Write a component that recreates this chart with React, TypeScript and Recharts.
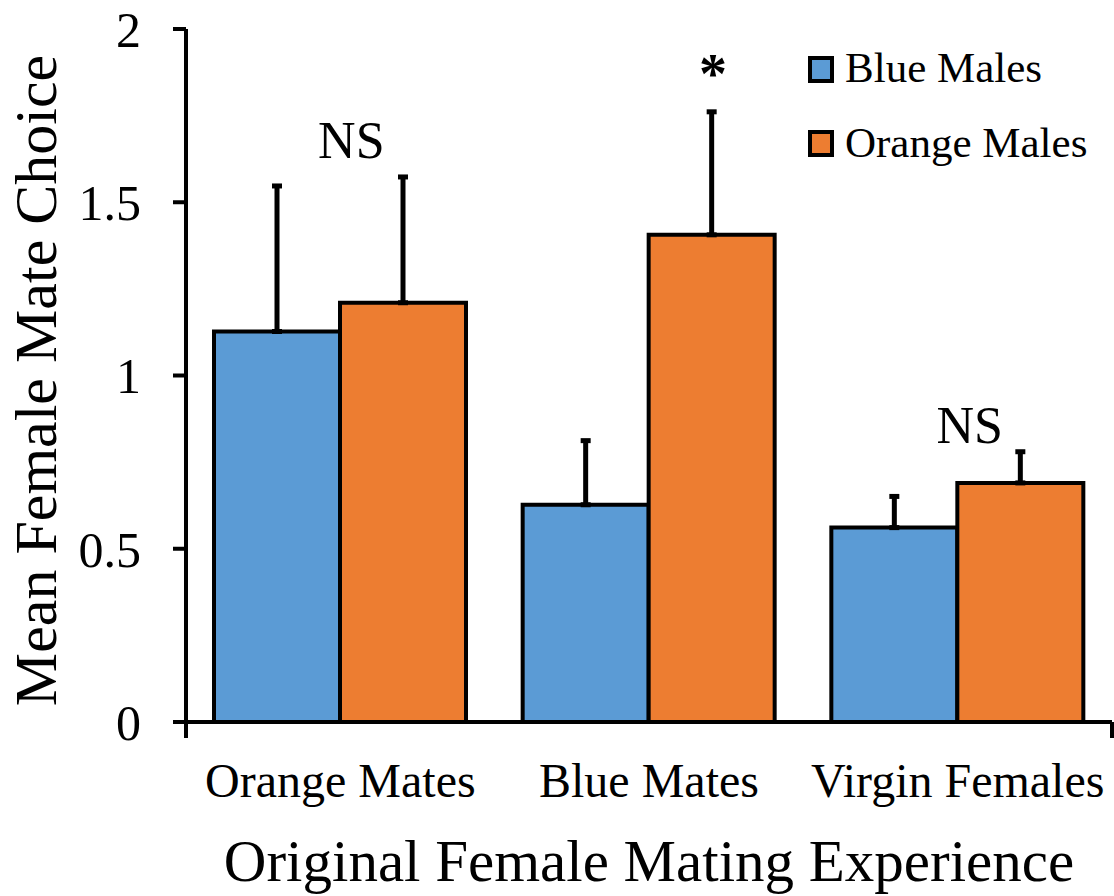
import React from "react"
import * as R from "recharts"
import {
  Bar,
  BarChart,
  ErrorBar,
  Legend,
  ReferenceDot,
  XAxis,
  YAxis,
} from "recharts"

const categories = ["Orange Mates", "Blue Mates", "Virgin Females"]
const blueMales = [1.127, 0.627, 0.561]
const blueErr = [0.42, 0.185, 0.09]
const orangeMales = [1.21, 1.406, 0.69]
const orangeErr = [0.363, 0.355, 0.09]
const yTicks = [0, 0.5, 1, 1.5, 2]

// significance marks: category, value at text baseline, label, offset from category centre
const marks = [
  { category: "Orange Mates", y: 1.627, text: "NS", dx: 11, bold: false },
  { category: "Blue Mates", y: 1.815, text: "*", dx: 64, bold: true },
  { category: "Virgin Females", y: 0.805, text: "NS", dx: 12, bold: false },
]

const data = categories.map((name, i) => ({
  name,
  blue: blueMales[i],
  blueErr: blueErr[i],
  orange: orangeMales[i],
  orangeErr: orangeErr[i],
}))

const FONT = "'Liberation Serif', 'Times New Roman', serif"
const BLUE = "#5B9BD5"
const ORANGE = "#ED7D31"

function EdgeTicks() {
  const usePlotArea = (R as any).usePlotArea
  const area = usePlotArea ? usePlotArea() : null
  if (!area) return null
  const bottom = area.y + area.height
  return (
    <g>
      <line x1={area.x} y1={bottom} x2={area.x} y2={bottom + 16} stroke="#000" strokeWidth={4} />
      <line
        x1={area.x + area.width}
        y1={bottom}
        x2={area.x + area.width}
        y2={bottom + 16}
        stroke="#000"
        strokeWidth={4}
      />
    </g>
  )
}

function YTitle(props: any) {
  const { x, y, height } = props.viewBox
  const cx = x + 56
  const cy = y + height / 2 + 5
  return (
    <text
      x={cx}
      y={cy}
      transform={`rotate(-90, ${cx}, ${cy})`}
      textAnchor="middle"
      fontFamily={FONT}
      fontSize={60}
      fill="#000"
    >
      Mean Female Mate Choice
    </text>
  )
}

function LegendBox({ payload }: any) {
  const items = payload ?? []
  return (
    <svg width={300} height={140} style={{ overflow: "visible" }}>
      {items.map((item: any, i: number) => (
        <g key={item.value}>
          <rect
            x={4}
            y={18 + i * 74}
            width={22}
            height={23}
            fill={item.color}
            stroke="#000"
            strokeWidth={4}
          />
          <text x={39} y={42 + i * 75} fontFamily={FONT} fontSize={43} fill="#000">
            {item.value}
          </text>
        </g>
      ))}
    </svg>
  )
}

export default function App() {
  return (
    <div style={{ position: "absolute", left: 0, top: 0, background: "#fff" }}>
      <BarChart
        width={1114}
        height={896}
        data={data}
        margin={{ top: 29, right: 2, left: 0, bottom: 0 }}
        barCategoryGap={28}
        barGap={0}
      >
        <XAxis
          dataKey="name"
          height={174}
          axisLine={{ stroke: "#000", strokeWidth: 4 }}
          tickLine={false}
          tickSize={0}
          tickMargin={41}
          tick={{ fill: "#000", fontSize: 48, fontFamily: FONT }}
          interval={0}
          label={{
            value: "Original Female Mating Experience",
            position: "insideBottom",
            offset: 15,
            fill: "#000",
            fontSize: 59,
            fontFamily: FONT,
          }}
        />
        <YAxis
          width={186}
          domain={[0, 2]}
          ticks={yTicks}
          axisLine={{ stroke: "#000", strokeWidth: 4 }}
          tickLine={{ stroke: "#000", strokeWidth: 4 }}
          tickSize={13}
          tickMargin={32}
          tick={{ fill: "#000", fontSize: 50, fontFamily: FONT }}
          label={(props: any) => <YTitle {...props} />}
        />
        <Legend
          layout="horizontal"
          verticalAlign="middle"
          align="center"
          wrapperStyle={{ top: 40, left: 806, width: 300, height: 140 }}
          content={(props: any) => <LegendBox {...props} />}
        />
        <Bar
          dataKey="blue"
          name="Blue Males"
          fill={BLUE}
          stroke="#000"
          strokeWidth={4}
          isAnimationActive={false}
        >
          <ErrorBar
            dataKey={(d: any) => [0, d.blueErr]}
            direction="y"
            width={5}
            stroke="#000"
            strokeWidth={5}
          />
        </Bar>
        <Bar
          dataKey="orange"
          name="Orange Males"
          fill={ORANGE}
          stroke="#000"
          strokeWidth={4}
          isAnimationActive={false}
        >
          <ErrorBar
            dataKey={(d: any) => [0, d.orangeErr]}
            direction="y"
            width={5}
            stroke="#000"
            strokeWidth={5}
          />
        </Bar>
        {marks.map((m) => (
          <ReferenceDot
            key={m.category}
            x={m.category}
            y={m.y}
            r={1}
            fill="none"
            stroke="none"
            label={(props: any) => {
              const vb = props.viewBox
              return (
                <text
                  x={vb.x + vb.width / 2 + m.dx}
                  y={vb.y + vb.height / 2}
                  textAnchor="middle"
                  fontFamily={FONT}
                  fontSize={m.bold ? 56 : 52}
                  fontWeight={m.bold ? "bold" : "normal"}
                  fill="#000"
                >
                  {m.text}
                </text>
              )
            }}
          />
        ))}
        <EdgeTicks />
      </BarChart>
    </div>
  )
}
